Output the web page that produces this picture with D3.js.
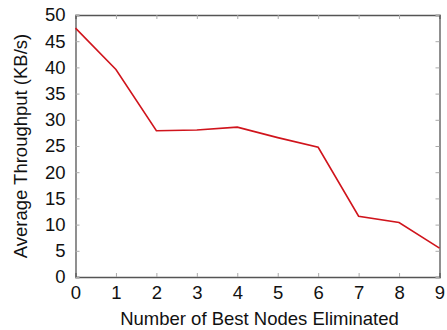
<!DOCTYPE html>
<html><head><meta charset="utf-8">
<script src="https://cdn.jsdelivr.net/npm/d3@7"></script>
<style>body{margin:0;background:#fff}svg{display:block}text{font-family:"Liberation Sans",Arial,sans-serif}</style>
</head><body>
<script>
const nodesEliminated = [0,1,2,3,4,5,6,7,8,9];
const throughput = [47.5,39.6,27.9,28.05,28.6,26.6,24.75,11.6,10.4,5.5];
const xTicks = [0,1,2,3,4,5,6,7,8,9];
const yTicks = [0,5,10,15,20,25,30,35,40,45,50];

const W=447,H=330;
const m={left:75.5,right:439.5,top:15,bottom:277};
const svg=d3.select("body").append("svg").attr("width",W).attr("height",H);
const x=d3.scaleLinear().domain([0,9]).range([m.left,m.right]);
const y=d3.scaleLinear().domain([0,50]).range([m.bottom,m.top]);
const axisCol="#555";
const fs=18.5;

// axes with inward ticks
const gB=svg.append("g").attr("transform",`translate(0,${m.bottom})`)
  .call(d3.axisBottom(x).tickValues(xTicks).tickSize(-4).tickPadding(11).tickFormat(d3.format("d")));
const gT=svg.append("g").attr("transform",`translate(0,${m.top})`)
  .call(d3.axisTop(x).tickValues(xTicks).tickSize(-4).tickFormat(""));
const gL=svg.append("g").attr("transform",`translate(${m.left},0)`)
  .call(d3.axisLeft(y).tickValues(yTicks).tickSize(-4).tickPadding(10).tickFormat(d3.format("d")));
const gR=svg.append("g").attr("transform",`translate(${m.right},0)`)
  .call(d3.axisRight(y).tickValues(yTicks).tickSize(-4).tickFormat(""));
[gB,gT,gL,gR].forEach(g=>{
  g.select(".domain").attr("stroke",axisCol).attr("stroke-width",1.3);
  g.selectAll(".tick line").attr("stroke","#aaa").attr("stroke-width",1);
  g.selectAll(".tick text").attr("fill","#111").style("font-size",fs+"px").style("font-family","'Liberation Sans',Arial,sans-serif");
});
gB.selectAll(".tick text").attr("dy","0.6em");

// line
svg.append("path").datum(nodesEliminated.map((d,i)=>[d,throughput[i]]))
  .attr("fill","none").attr("stroke","#d0141c").attr("stroke-width",1.6)
  .attr("d",d3.line().x(d=>x(d[0])).y(d=>y(d[1])));

// titles
svg.append("text").attr("x",(m.left+m.right)/2+2).attr("y",325)
  .attr("text-anchor","middle").style("font-size",fs+"px").attr("fill","#111")
  .text("Number of Best Nodes Eliminated");
svg.append("text").attr("transform",`translate(27,${(m.top+m.bottom)/2}) rotate(-90)`)
  .attr("text-anchor","middle").style("font-size",fs+"px").attr("fill","#111")
  .text("Average Throughput (KB/s)");
</script>
</body></html>
